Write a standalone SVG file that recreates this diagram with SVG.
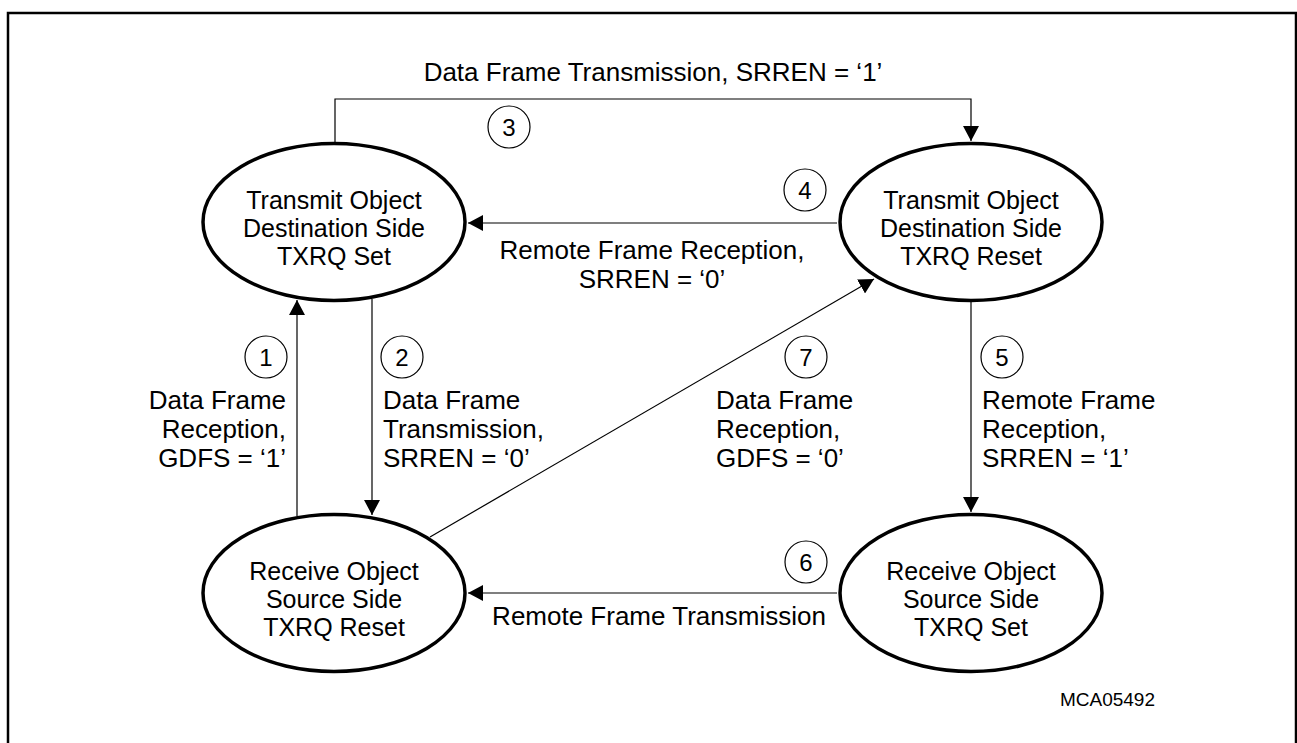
<svg xmlns="http://www.w3.org/2000/svg" width="1297" height="743" viewBox="0 0 1297 743">
<style>
text{font-family:"Liberation Sans",Arial,sans-serif;font-size:26px;fill:#000}
.st ellipse{fill:#fff;stroke:#000;stroke-width:3.5}
.st text{text-anchor:middle;font-size:25px}
.cn{fill:none;stroke:#000;stroke-width:1.2}
.num circle{fill:#fff;stroke:#000;stroke-width:1.2}
.num text{text-anchor:middle;font-size:24px}
.mid{text-anchor:middle}
.end{text-anchor:end}
</style>
<defs>
<marker id="arr" markerUnits="userSpaceOnUse" markerWidth="15" markerHeight="16" refX="15" refY="8" orient="auto">
<path d="M0,0 L15,8 L0,16 z" fill="#000"/>
</marker>
</defs>
<rect x="8" y="13" width="1288" height="740" fill="#fff" stroke="#000" stroke-width="2.5"/>
<g id="connectors" class="cn">
<path id="c3" d="M335,142 V99 H971 V141" marker-end="url(#arr)"/>
<path id="c4" d="M837,223 H468" marker-end="url(#arr)"/>
<path id="c1" d="M297,516 V300" marker-end="url(#arr)"/>
<path id="c2" d="M372,299 V515" marker-end="url(#arr)"/>
<path id="c5" d="M971,302 V512" marker-end="url(#arr)"/>
<path id="c6" d="M837,593 H468" marker-end="url(#arr)"/>
<path id="c7" d="M430,537 L874,279" marker-end="url(#arr)"/>
</g>
<g id="s_tx_set" class="st">
<ellipse cx="334" cy="222" rx="131" ry="78.5"/>
<text x="334" y="209">Transmit Object</text>
<text x="334" y="237">Destination Side</text>
<text x="334" y="265">TXRQ Set</text>
</g>
<g id="s_tx_reset" class="st">
<ellipse cx="971" cy="222" rx="131" ry="78.5"/>
<text x="971" y="209">Transmit Object</text>
<text x="971" y="237">Destination Side</text>
<text x="971" y="265">TXRQ Reset</text>
</g>
<g id="s_rx_reset" class="st">
<ellipse cx="334" cy="593" rx="131" ry="78.5"/>
<text x="334" y="580">Receive Object</text>
<text x="334" y="608">Source Side</text>
<text x="334" y="636">TXRQ Reset</text>
</g>
<g id="s_rx_set" class="st">
<ellipse cx="971" cy="593" rx="131" ry="78.5"/>
<text x="971" y="580">Receive Object</text>
<text x="971" y="608">Source Side</text>
<text x="971" y="636">TXRQ Set</text>
</g>
<g id="numbers" class="num">
<g id="n1"><circle cx="266" cy="357" r="21"/><text x="266" y="366">1</text></g>
<g id="n2"><circle cx="402" cy="357" r="21"/><text x="402" y="366">2</text></g>
<g id="n3"><circle cx="509" cy="127" r="21"/><text x="509" y="136">3</text></g>
<g id="n4"><circle cx="805" cy="190" r="21"/><text x="805" y="199">4</text></g>
<g id="n5"><circle cx="1002" cy="357" r="21"/><text x="1002" y="366">5</text></g>
<g id="n6"><circle cx="806" cy="562" r="21"/><text x="806" y="571">6</text></g>
<g id="n7"><circle cx="806" cy="357" r="21"/><text x="806" y="366">7</text></g>
</g>
<g id="labels">
<text class="mid" x="653" y="81">Data Frame Transmission, SRREN = &#8216;1&#8217;</text>
<text class="mid" x="652" y="259">Remote Frame Reception,</text>
<text class="mid" x="652" y="288">SRREN = &#8216;0&#8217;</text>
<text class="end" x="286" y="409">Data Frame</text>
<text class="end" x="286" y="438">Reception,</text>
<text class="end" x="286" y="467">GDFS = &#8216;1&#8217;</text>
<text x="383" y="409">Data Frame</text>
<text x="383" y="438">Transmission,</text>
<text x="383" y="467">SRREN = &#8216;0&#8217;</text>
<text x="716" y="409">Data Frame</text>
<text x="716" y="438">Reception,</text>
<text x="716" y="467">GDFS = &#8216;0&#8217;</text>
<text x="982" y="409">Remote Frame</text>
<text x="982" y="438">Reception,</text>
<text x="982" y="467">SRREN = &#8216;1&#8217;</text>
<text class="mid" x="659" y="625">Remote Frame Transmission</text>
<text class="end" x="1155" y="706" style="font-size:19px">MCA05492</text>
</g>
</svg>
